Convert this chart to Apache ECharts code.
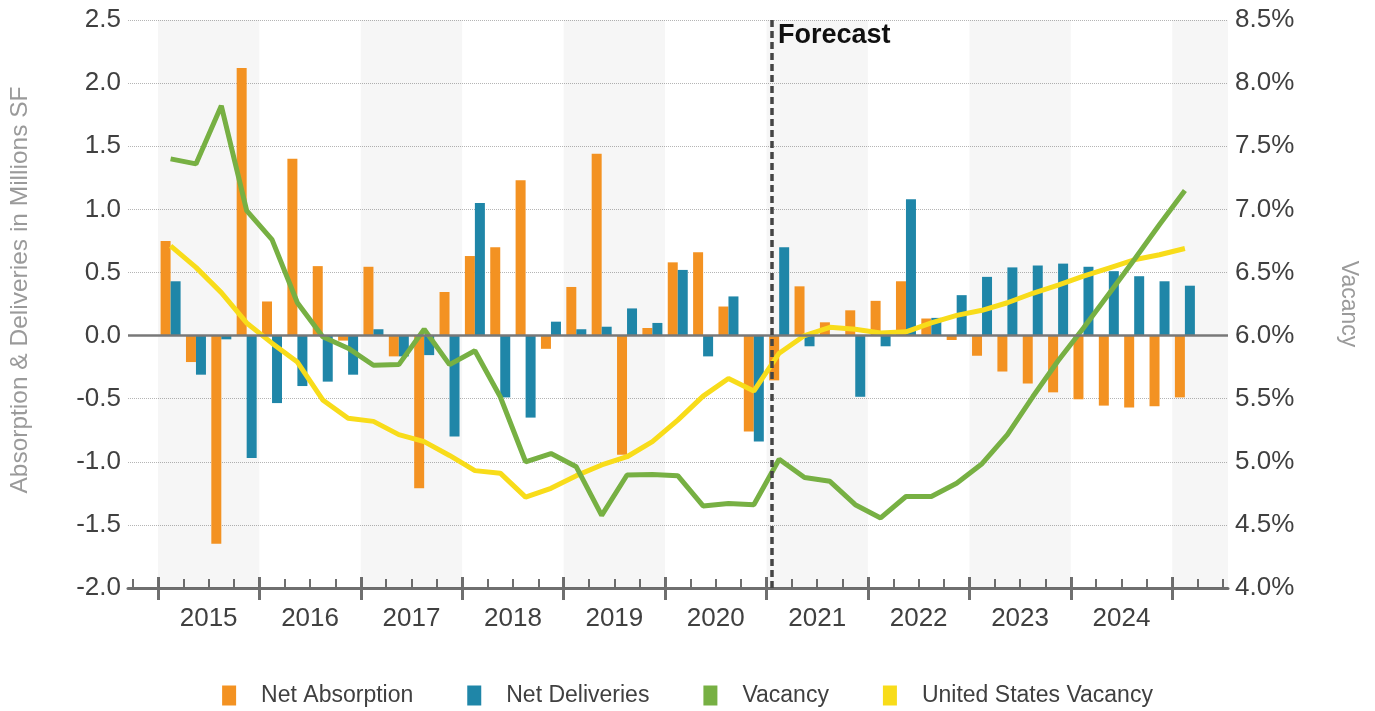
<!DOCTYPE html>
<html>
<head>
<meta charset="utf-8">
<script src="https://cdn.jsdelivr.net/npm/echarts@6/dist/echarts.min.js"></script>
<style>
  html, body { margin: 0; padding: 0; background: #fff; }
  #chart { width: 1375px; height: 711px; }
</style>
</head>
<body>
<div id="chart"></div>
<script>
// quarters 2015 Q1 .. 2025 Q1
const years = ['2015', '2016', '2017', '2018', '2019', '2020', '2021', '2022', '2023', '2024']
const quarters = []
for (const y of [...years, '2025']) for (const q of ['Q1', 'Q2', 'Q3', 'Q4']) quarters.push(y + ' ' + q)
quarters.length = 41

// millions SF
const netAbsorption = [
  0.75, -0.21, -1.65, 2.12,
  0.27, 1.40, 0.55, -0.04,
  0.545, -0.165, -1.21, 0.345,
  0.63, 0.70, 1.23, -0.105,
  0.385, 1.44, -0.945, 0.06,
  0.58, 0.66, 0.23, -0.76,
  -0.355, 0.39, 0.105, 0.20,
  0.275, 0.43, 0.135, -0.035,
  -0.16, -0.285, -0.38, -0.45,
  -0.505, -0.555, -0.57, -0.56,
  -0.49
]
const netDeliveries = [
  0.43, -0.31, -0.03, -0.97,
  -0.535, -0.40, -0.365, -0.31,
  0.05, -0.165, -0.155, -0.80,
  1.05, -0.49, -0.65, 0.11,
  0.05, 0.07, 0.215, 0.10,
  0.52, -0.165, 0.31, -0.84,
  0.70, -0.085, 0.0, -0.485,
  -0.085, 1.08, 0.14, 0.32,
  0.465, 0.54, 0.555, 0.57,
  0.545, 0.51, 0.47, 0.43,
  0.395
]
// percent
const vacancy = [
  7.40, 7.36, 7.82, 6.99,
  6.76, 6.26, 5.99, 5.90,
  5.765, 5.77, 6.05, 5.77,
  5.88, 5.515, 5.00, 5.065,
  4.96, 4.575, 4.895, 4.90,
  4.89, 4.65, 4.67, 4.66,
  5.02, 4.875, 4.845, 4.66,
  4.555, 4.725, 4.725, 4.83,
  4.985, 5.215, 5.515, 5.80,
  6.06, 6.33, 6.60, 6.88,
  7.15
]
const usVacancy = [
  6.71, 6.54, 6.34, 6.10,
  5.94, 5.79, 5.49, 5.345,
  5.32, 5.215, 5.16, 5.05,
  4.93, 4.91, 4.72, 4.79,
  4.89, 4.975, 5.04, 5.16,
  5.33, 5.52, 5.66, 5.56,
  5.86, 6.00, 6.065, 6.05,
  6.02, 6.03, 6.10, 6.16,
  6.20, 6.26, 6.335, 6.40,
  6.47, 6.535, 6.60, 6.64,
  6.69
]
const forecastStart = '2021 Q1'

const X_MIN = -1.18
const X_MAX = 42.2
const FONT = '"Liberation Sans", Arial, sans-serif'
const AXIS_GRAY = '#6f6f6f'
const LABEL = '#404040'

// x position = quarter index, centre of the quarter
const pos = (i) => i + 0.5
const pairs = (arr) => arr.map((v, i) => [pos(i), v])

const minorTicks = []
for (let i = -1; i <= 42; i++) minorTicks.push(i)
const yearStarts = years.map((y, i) => i * 4).concat([40])
const yearCentres = years.map((y, i) => i * 4 + 2)

// shaded year bands: 2015, 2017, ... and the trailing 2025 part
const bands = []
for (let i = 0; i < yearStarts.length; i += 2) {
  bands.push([{ xAxis: yearStarts[i] }, { xAxis: Math.min(yearStarts[i] + 4, X_MAX) }])
}

const chart = echarts.init(document.getElementById('chart'), null, { renderer: 'canvas' })

chart.setOption({
  animation: false,
  textStyle: { fontFamily: FONT },
  grid: { left: 127, right: 147, top: 20, bottom: 123 },
  graphic: [
    {
      type: 'text',
      left: 778,
      top: 22,
      style: { text: 'Forecast', font: 'bold 27px ' + FONT, fill: '#111' }
    }
  ],
  legend: {
    top: 679,
    left: 'center',
    icon: 'rect',
    itemWidth: 14,
    itemHeight: 20,
    itemGap: 54,
    textStyle: { fontSize: 23, color: LABEL, padding: [0, 0, 0, 20] },
    data: ['Net Absorption', 'Net Deliveries', 'Vacancy', 'United States Vacancy']
  },
  xAxis: [
    {
      type: 'value',
      min: X_MIN,
      max: X_MAX,
      position: 'bottom',
      axisLine: { onZero: false, lineStyle: { color: AXIS_GRAY, width: 3 } },
      axisTick: {
        inside: true,
        length: 9,
        customValues: minorTicks,
        lineStyle: { color: AXIS_GRAY, width: 2 }
      },
      axisLabel: {
        customValues: yearCentres,
        formatter: (v) => years[(v - 2) / 4],
        fontSize: 26,
        color: LABEL,
        margin: 18
      },
      splitLine: { show: false }
    },
    {
      type: 'value',
      min: X_MIN,
      max: X_MAX,
      position: 'bottom',
      offset: -11,
      axisLine: { show: false, onZero: false },
      axisTick: {
        length: 23,
        customValues: yearStarts,
        lineStyle: { color: AXIS_GRAY, width: 3 }
      },
      axisLabel: { show: false },
      splitLine: { show: false }
    }
  ],
  yAxis: [
    {
      type: 'value',
      min: -2,
      max: 2.5,
      interval: 0.5,
      name: 'Absorption & Deliveries in Millions SF',
      nameLocation: 'middle',
      nameRotate: 90,
      nameGap: 95,
      nameTextStyle: { fontSize: 24.5, color: '#9a9a9a', padding: [0, 0, 0, 28] },
      axisLine: { show: false },
      axisTick: { show: false },
      axisLabel: { fontSize: 26, color: LABEL, margin: 7, formatter: (v) => v.toFixed(1) },
      splitLine: { lineStyle: { type: 'dotted', color: '#b5b5b5', width: 1 } }
    },
    {
      type: 'value',
      min: 4,
      max: 8.5,
      interval: 0.5,
      name: 'Vacancy',
      nameLocation: 'middle',
      nameRotate: -90,
      nameGap: 109,
      nameTextStyle: { fontSize: 23, color: '#9a9a9a' },
      axisLine: { show: false },
      axisTick: { show: false },
      axisLabel: { fontSize: 26, color: LABEL, margin: 7, formatter: (v) => v.toFixed(1) + '%' },
      splitLine: { show: false }
    }
  ],
  series: [
    {
      name: 'Net Absorption',
      type: 'bar',
      xAxisIndex: 0,
      yAxisIndex: 0,
      barWidth: 10,
      barGap: '0%',
      itemStyle: { color: '#f39222' },
      data: pairs(netAbsorption),
      markArea: {
        silent: true,
        itemStyle: { color: 'rgba(0,0,0,0.035)' },
        data: bands
      }
    },
    {
      name: 'Net Deliveries',
      type: 'bar',
      xAxisIndex: 0,
      yAxisIndex: 0,
      barWidth: 10,
      barGap: '0%',
      itemStyle: { color: '#1f86a8' },
      data: pairs(netDeliveries),
      markLine: {
        silent: true,
        symbol: 'none',
        label: { show: false },
        data: [
          { yAxis: 0, lineStyle: { color: '#787878', width: 2.5, type: 'solid' } },
          {
            xAxis: quarters.indexOf(forecastStart),
            lineStyle: { color: '#444', width: 3.5, type: [7, 4] }
          }
        ]
      }
    },
    {
      name: 'Vacancy',
      type: 'line',
      xAxisIndex: 0,
      yAxisIndex: 1,
      z: 4,
      symbol: 'none',
      lineStyle: { color: '#77b043', width: 5 },
      itemStyle: { color: '#77b043' },
      data: pairs(vacancy)
    },
    {
      name: 'United States Vacancy',
      type: 'line',
      xAxisIndex: 0,
      yAxisIndex: 1,
      z: 3,
      symbol: 'none',
      lineStyle: { color: '#f8dc1a', width: 5 },
      itemStyle: { color: '#f8dc1a' },
      data: pairs(usVacancy)
    }
  ]
})
</script>
</body>
</html>
